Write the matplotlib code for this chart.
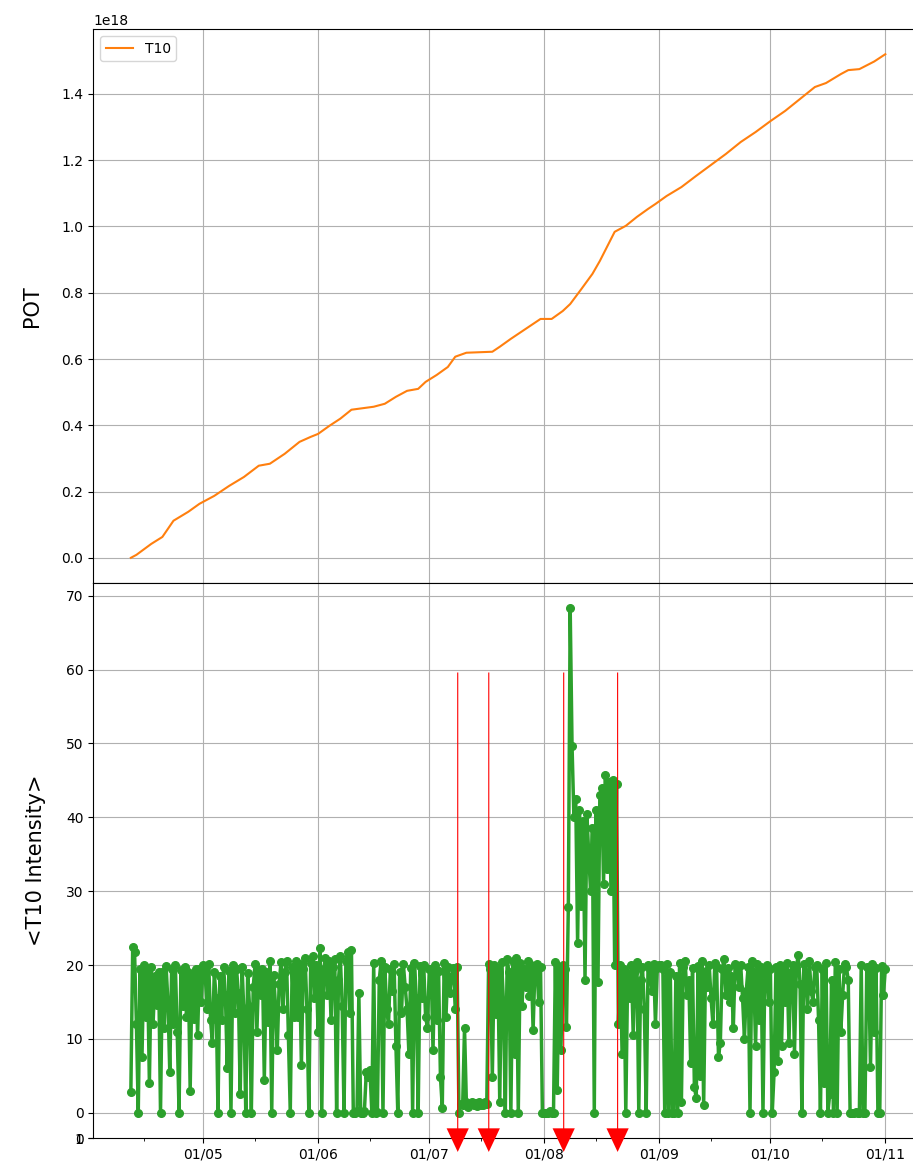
import matplotlib
matplotlib.use("Agg")
import matplotlib.pyplot as plt
import matplotlib.dates as mdates
import numpy as np
import pandas as pd

# cumulative protons on target (units of 1e18)
pot_dates = ["2023-04-11 12:00", "2023-04-13", "2023-04-17", "2023-04-20", "2023-04-23",
             "2023-04-27", "2023-04-30", "2023-05-04", "2023-05-08", "2023-05-12",
             "2023-05-16", "2023-05-19", "2023-05-23", "2023-05-27", "2023-05-30",
             "2023-06-01", "2023-06-04", "2023-06-07", "2023-06-10", "2023-06-12",
             "2023-06-16", "2023-06-19", "2023-06-22", "2023-06-25", "2023-06-28",
             "2023-06-30", "2023-07-03", "2023-07-06", "2023-07-08", "2023-07-11",
             "2023-07-18", "2023-07-20", "2023-07-23", "2023-07-27", "2023-07-31",
             "2023-08-03", "2023-08-06", "2023-08-08", "2023-08-11", "2023-08-14",
             "2023-08-16", "2023-08-20", "2023-08-23", "2023-08-26", "2023-08-29",
             "2023-08-31", "2023-09-03", "2023-09-07", "2023-09-11", "2023-09-15",
             "2023-09-19", "2023-09-23", "2023-09-27", "2023-10-01", "2023-10-05",
             "2023-10-09", "2023-10-13", "2023-10-16", "2023-10-20", "2023-10-22",
             "2023-10-25", "2023-10-29", "2023-11-01"]
pot_vals = [0.0, 0.009, 0.042, 0.063, 0.112, 0.139, 0.163, 0.187, 0.217, 0.244,
            0.278, 0.284, 0.314, 0.350, 0.365, 0.374, 0.398, 0.420, 0.447, 0.450,
            0.456, 0.465, 0.486, 0.504, 0.510, 0.531, 0.552, 0.576, 0.607, 0.619,
            0.622, 0.637, 0.661, 0.691, 0.721, 0.721, 0.745, 0.766, 0.811, 0.857,
            0.896, 0.984, 1.002, 1.029, 1.053, 1.068, 1.092, 1.119, 1.153, 1.186,
            1.219, 1.255, 1.285, 1.318, 1.349, 1.385, 1.421, 1.433, 1.460, 1.472,
            1.475, 1.498, 1.520]

# mean T10 intensity, two readings per day starting 11/04 12:00
apr_vals = [2.8, 22.5, 21.8, 12.0, 0.0, 19.5, 7.5, 20.0, 13.0, 19.2,
            4.0, 19.8, 12.0, 18.5, 14.6, 19.0, 0.0, 19.0, 11.5, 19.9,
            15.0, 5.5, 19.5, 12.0, 20.0, 11.0, 0.0, 19.3, 14.5, 19.8,
            13.0, 19.0, 3.0, 18.8, 12.7, 19.5, 10.5, 19.4, 15.0, 20.0]
may_vals = [19.5, 14.0, 20.2, 12.5, 9.5, 19.0, 15.6, 0.0, 18.5, 12.5,
            19.8, 16.0, 6.0, 19.2, 0.0, 20.0, 13.5, 19.5, 16.2, 2.5,
            19.7, 13.5, 0.0, 18.9, 14.5, 0.0, 17.0, 20.1, 11.0, 19.3,
            15.9, 19.5, 4.5, 19.0, 12.3, 20.5, 0.0, 18.7, 14.6, 8.5,
            17.5, 20.4, 14.0, 19.1, 20.5, 10.5, 0.0, 19.8, 13.0, 20.6,
            13.0, 20.2, 6.5, 19.5, 21.0, 14.0, 0.0, 20.3, 21.2, 15.5,
            20.0, 11.0]
jun_vals = [22.3, 0.0, 19.5, 21.0, 16.0, 20.5, 12.5, 19.8, 20.8, 0.0,
            18.0, 21.2, 14.5, 0.0, 20.6, 21.8, 13.5, 22.0, 0.0, 0.0,
            0.2, 16.2, 0.0, 0.0, 0.3, 5.5, 4.8, 5.8, 0.0, 20.3,
            0.0, 0.1, 18.0, 20.5, 0.0, 19.8, 14.0, 12.0, 19.5, 16.5,
            20.2, 9.0, 0.0, 19.0, 13.5, 20.1, 17.0, 14.0, 8.0, 19.6,
            0.0, 20.3, 15.5, 0.0, 19.9, 15.5, 20.0, 13.0, 11.5, 19.5]
jul_vals = [19.5, 8.5, 20.0, 12.6, 19.2, 4.9, 0.7, 20.3, 13.0, 19.8,
            16.2, 18.5, 19.6, 14.0, 19.8, 0.0, 1.2, 1.0, 11.5, 1.4,
            0.8, 1.2, 1.5, 1.0, 1.3, 0.9, 1.4, 1.1, 1.0, 1.5,
            1.2, 20.2, 19.5, 4.9, 20.0, 13.4, 19.6, 1.5, 20.4, 15.0,
            0.0, 20.8, 19.0, 0.0, 20.5, 8.0, 21.0, 0.0, 20.3, 14.5,
            19.5, 17.0, 20.6, 15.8, 20.0, 11.2, 19.7, 20.2, 15.0, 19.8,
            0.0, 0.0]
aug_vals = [0.0, 0.0, 0.2, 0.0, 0.0, 20.4, 3.1, 19.8, 8.5, 20.0,
            19.5, 11.6, 27.9, 68.3, 49.7, 40.0, 42.5, 23.0, 41.0, 28.0,
            39.5, 18.0, 40.5, 35.0, 30.0, 38.5, 0.0, 41.0, 17.7, 43.0,
            44.0, 31.0, 45.7, 33.0, 44.8, 30.0, 45.0, 20.0, 44.5, 12.0,
            20.0, 8.0, 19.5, 0.0, 18.8, 15.5, 20.0, 10.5, 19.2, 20.4,
            0.0, 18.0, 19.8, 14.0, 0.0, 20.0, 19.5, 16.5, 20.2, 12.0,
            19.6, 20.0]
sep_vals = [20.0, 19.5, 0.0, 20.2, 0.0, 19.0, 0.0, 0.0, 18.5, 0.0,
            20.3, 1.5, 19.8, 20.5, 16.0, 18.0, 6.8, 19.6, 3.5, 2.0,
            19.9, 5.0, 20.5, 1.0, 19.2, 17.0, 20.0, 15.5, 12.0, 20.3,
            19.8, 7.6, 9.5, 19.5, 20.8, 16.0, 19.6, 15.0, 18.5, 11.5,
            20.2, 19.7, 17.0, 20.0, 15.5, 10.0, 16.5, 19.8, 0.0, 20.5,
            19.0, 9.0, 20.2, 12.5, 19.7, 0.0, 18.8, 20.0, 15.0, 19.5]
oct_vals = [0.0, 5.5, 19.8, 7.0, 20.0, 9.0, 19.5, 15.0, 20.3, 9.5,
            19.0, 20.0, 8.0, 19.6, 21.4, 17.5, 0.0, 20.2, 19.0, 14.0,
            20.5, 16.5, 15.0, 19.8, 20.0, 12.5, 0.0, 19.5, 4.0, 20.3,
            0.0, 2.5, 18.0, 0.0, 20.4, 0.0, 19.5, 11.0, 16.0, 20.1,
            19.7, 18.0, 0.0, 0.0, 0.0, 0.1, 0.0, 0.0, 20.0, 0.0,
            0.0, 19.8, 19.5, 6.2, 20.2, 11.0, 19.6, 0.0, 0.0, 19.9,
            16.0, 19.5]

# beam-change marks
mark_dates = ["2023-07-08 16:00", "2023-07-17 01:00", "2023-08-06 06:00", "2023-08-20 19:00"]

pot_t = pd.to_datetime(pot_dates, format="ISO8601")
pot = np.array(pot_vals) * 1e18
inten = np.concatenate([apr_vals, may_vals, jun_vals, jul_vals, aug_vals, sep_vals, oct_vals])
inten_t = pd.date_range("2023-04-11 12:00", periods=len(inten), freq="12h")

fig = plt.figure(figsize=(9.13, 11.66), dpi=100)
left, width = 0.102, 0.909
ax1 = fig.add_axes([left, 0.5, width, 0.4751])
ax2 = fig.add_axes([left, 0.024, width, 0.476], sharex=ax1)

ax1.plot(pot_t, pot, color="C1", label="T10")
ax1.set_ylabel("POT", fontsize=15, labelpad=14)
ax1.legend(loc="upper left")
ax1.grid(True)
plt.setp(ax1.get_xticklabels(), visible=False)

ax2.plot(inten_t, inten, "o-", color="C2", markersize=5.5, lw=2.5)
ax2.set_ylabel("<T10 Intensity>", fontsize=15, labelpad=14)
ax2.grid(True)
ax2.xaxis.set_major_locator(mdates.MonthLocator())
ax2.xaxis.set_minor_locator(mdates.MonthLocator(bymonthday=15))
ax2.xaxis.set_major_formatter(mdates.DateFormatter("%d/%m"))

for d in pd.to_datetime(mark_dates, format="ISO8601"):
    ax2.annotate("", xy=(d, -5.3), xytext=(d, 59.6), annotation_clip=False,
                 arrowprops=dict(color="red", width=0.8, headwidth=16, headlength=17,
                                 shrink=0, lw=0))

# thin helper axis at the bottom (its 0/1 labels overlap)
ax3 = fig.add_axes([left, 0.024, width, 1e-5])
ax3.patch.set_visible(False)
ax3.set_ylim(0, 1)
ax3.set_yticks([0, 1])
ax3.xaxis.set_visible(False)
for s in ax3.spines.values():
    s.set_visible(False)

fig.savefig("out.png", dpi=100)
